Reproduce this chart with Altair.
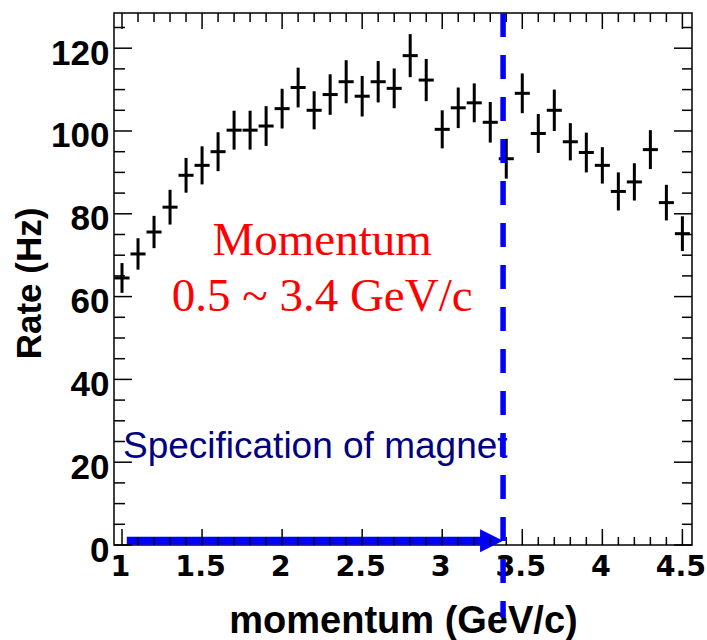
import altair as alt
import pandas as pd

# Measured rate per momentum bin (bin width 0.1 GeV/c)
momentum = [1.0, 1.1, 1.2, 1.3, 1.4, 1.5, 1.6, 1.7, 1.8, 1.9,
            2.0, 2.1, 2.2, 2.3, 2.4, 2.5, 2.6, 2.7, 2.8, 2.9,
            3.0, 3.1, 3.2, 3.3, 3.4, 3.5, 3.6, 3.7, 3.8, 3.9,
            4.0, 4.1, 4.2, 4.3, 4.4, 4.5]
rate = [64.5, 70.3, 75.6, 81.6, 89.3, 91.7, 95.0, 100.2, 100.2, 101.2,
        105.4, 110.5, 105.0, 108.8, 111.9, 108.4, 111.9, 110.3, 118.2, 112.3,
        100.4, 105.6, 106.8, 102.1, 93.3, 109.1, 99.4, 105.0, 97.4, 94.8,
        91.7, 85.4, 87.7, 95.5, 82.7, 75.2]
rate_err = [3.6, 3.8, 3.9, 4.2, 4.2, 4.6, 4.7, 4.7, 4.7, 4.8,
            4.8, 4.8, 4.6, 4.9, 5.2, 4.9, 5.0, 4.8, 5.2, 5.1,
            4.6, 4.9, 4.7, 4.9, 4.8, 4.8, 4.7, 5.0, 4.5, 4.8,
            4.4, 4.6, 4.5, 4.7, 4.3, 4.2]
half_bin = 0.047

# Axis ticks
x_labels = [1, 1.5, 2, 2.5, 3, 3.5, 4, 4.5]
x_minor = [round(1.0 + 0.1 * i, 1) for i in range(36)]
y_labels = [0, 20, 40, 60, 80, 100, 120]
y_minor = [5 * i for i in range(26)]

# Annotations
magnet_limit = 3.38
arrow_start = 1.03
arrow_level = 1.0
red_lines = ["Momentum", "0.5 ~ 3.4 GeV/c"]
red_y = [70.0, 56.5]
red_x = 2.25
spec_text = "Specification of magnet"
spec_x, spec_y = 1.006, 21.0

W, H = 578, 532
X_DOMAIN = [0.95, 4.56]
Y_DOMAIN = [0, 128.5]

df = pd.DataFrame({"p": momentum, "rate": rate, "err": rate_err})
df["lo"] = df["rate"] - df["err"]
df["hi"] = df["rate"] + df["err"]
df["pl"] = df["p"] - half_bin
df["pr"] = df["p"] + half_bin

x_axis = alt.Axis(
    values=x_labels, format="~g", ticks=False, tickSize=0, domain=False, grid=False,
    labelFont="DejaVu Sans", labelFontWeight="bold", labelFontSize=28.5, labelColor="black",
    labelBaseline="top", labelPadding=7, labelOffset=-2, labelFlush=False, labelOverlap=False,
    title="momentum (GeV/c)", titleFont="Liberation Sans", titleFontWeight="bold",
    titleFontSize=38, titleColor="black", titleBaseline="alphabetic", titleY=87,
)
y_axis = alt.Axis(
    values=y_labels, format="d", ticks=False, tickSize=0, domain=False, grid=False,
    labelFont="Liberation Sans", labelFontWeight="bold", labelFontSize=35, labelColor="black",
    labelPadding=5, labelOffset=5, labelFlush=False, labelOverlap=False,
    title="Rate (Hz)", titleFont="Liberation Sans", titleFontWeight="bold",
    titleFontSize=35, titleColor="black", titleAngle=-90, titleX=-85, titleY=270,
    titleAlign="center", titleBaseline="middle",
)
xs = alt.Scale(domain=X_DOMAIN, nice=False, zero=False)
ys = alt.Scale(domain=Y_DOMAIN, nice=False, zero=False)


def X(field):
    return alt.X(field, type="quantitative", scale=xs, axis=x_axis)


def Y(field):
    return alt.Y(field, type="quantitative", scale=ys, axis=y_axis)


base = alt.Chart(df)
vbars = base.mark_rule(color="black", strokeWidth=3).encode(x=X("p"), y=Y("lo"), y2="hi")
hbars = base.mark_rule(color="black", strokeWidth=3).encode(x=X("pl"), x2="pr", y=Y("rate"))

# Inward ticks on all four sides of the frame
xt = pd.DataFrame({"t": x_minor, "major": [abs(v * 2 - round(v * 2)) < 1e-9 for v in x_minor]})
yt = pd.DataFrame({"t": y_minor, "major": [v % 20 == 0 for v in y_minor]})
xmaj = alt.Chart(xt).transform_filter("datum.major")
xmin = alt.Chart(xt).transform_filter("!datum.major")
ymaj = alt.Chart(yt).transform_filter("datum.major")
ymin = alt.Chart(yt).transform_filter("!datum.major")
tick_style = dict(color="black", strokeWidth=1.5)
ticks = [
    xmaj.mark_rule(**tick_style).encode(x=X("t"), y=alt.value(H), y2=alt.value(H - 16)),
    xmin.mark_rule(**tick_style).encode(x=X("t"), y=alt.value(H), y2=alt.value(H - 8)),
    xmaj.mark_rule(**tick_style).encode(x=X("t"), y=alt.value(0), y2=alt.value(16)),
    xmin.mark_rule(**tick_style).encode(x=X("t"), y=alt.value(0), y2=alt.value(9)),
    ymaj.mark_rule(**tick_style).encode(y=Y("t"), x=alt.value(0), x2=alt.value(18)),
    ymin.mark_rule(**tick_style).encode(y=Y("t"), x=alt.value(0), x2=alt.value(11)),
    ymaj.mark_rule(**tick_style).encode(y=Y("t"), x=alt.value(W), x2=alt.value(W - 18)),
    ymin.mark_rule(**tick_style).encode(y=Y("t"), x=alt.value(W), x2=alt.value(W - 10)),
]

ann = pd.DataFrame({"x0": [arrow_start], "x1": [magnet_limit], "y": [arrow_level]})
arrow_shaft = alt.Chart(ann).mark_rule(color="#0000ff", strokeWidth=8).encode(
    x=X("x0"), x2=alt.datum(magnet_limit - 0.12), y=Y("y"))
arrow_head = alt.Chart(ann).mark_point(
    shape="M -2 -1 L 0 0 L -2 1 Z", size=529, filled=True, color="#0000ff", opacity=1, strokeWidth=0
).encode(x=X("x1"), y=Y("y"))

red_df = pd.DataFrame({"x": [red_x] * 2, "y": red_y, "txt": red_lines})
red_text = alt.Chart(red_df).mark_text(
    font="Liberation Serif", fontSize=47, color="#ff0000", align="center", baseline="alphabetic"
).encode(x=X("x"), y=Y("y"), text="txt:N")

spec_df = pd.DataFrame({"x": [spec_x], "y": [spec_y], "txt": [spec_text]})
spec = alt.Chart(spec_df).mark_text(
    font="Liberation Sans", fontSize=37, color="#000080", align="left", baseline="alphabetic"
).encode(x=X("x"), y=Y("y"), text="txt:N")

limit_df = pd.DataFrame({"x": [magnet_limit]})
limit_line = alt.Chart(limit_df).mark_rule(
    color="#0000ff", strokeWidth=5.5, strokeDash=[24, 18]
).encode(x=X("x"), y=alt.value(0), y2=alt.value(604))

chart = alt.layer(
    arrow_shaft, arrow_head, *ticks, vbars, hbars, red_text, spec, limit_line
).properties(
    width=W, height=H,
    autosize=alt.AutoSizeParams(type="none"),
    padding={"left": 114, "top": 13, "right": 15, "bottom": 95},
    background="white",
).configure_view(stroke="black", strokeWidth=1.5)

chart.save("out.html", embed_options={"renderer": "svg", "actions": False})
